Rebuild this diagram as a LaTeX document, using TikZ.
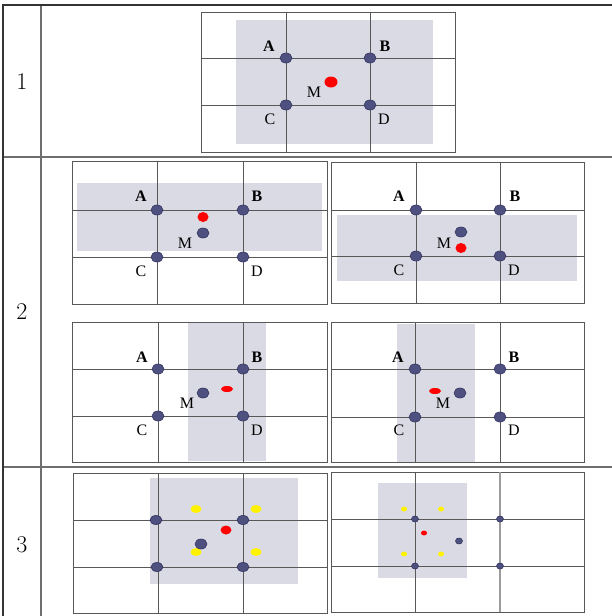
\documentclass[tikz,border=0pt]{standalone}
\usepackage{fontspec}
\newfontfamily\lblfont{Liberation Serif}
\usetikzlibrary{shapes.geometric, positioning}
\definecolor{dotblue}{RGB}{78,80,128}
\definecolor{dotedge}{RGB}{50,52,95}
\definecolor{shadegray}{RGB}{218,218,228}
\definecolor{gridgray}{RGB}{88,88,88}
\definecolor{tabgray}{RGB}{110,110,110}

\begin{document}
\begin{tikzpicture}[x=1pt,y=-1pt,
    gline/.style={gridgray,line width=1pt},
    shadebox/.style={fill=shadegray,draw=none},
    bdot/.style={ellipse,draw=dotedge,fill=dotblue,line width=0.6pt,
                 inner sep=0pt,minimum width=12pt,minimum height=10pt},
    rdot/.style={ellipse,fill=red,inner sep=0pt,
                 minimum width=12pt,minimum height=10pt},
    ydot/.style={ellipse,fill=yellow,inner sep=0pt,
                 minimum width=11pt,minimum height=8pt},
    tiny/.style={minimum width=7pt,minimum height=6pt},
    lbl/.style={inner sep=0pt,font=\lblfont\fontsize{16}{16}\selectfont},
    blbl/.style={lbl,font=\lblfont\bfseries\fontsize{16}{16}\selectfont},
    rownum/.style={inner sep=0pt,font=\fontsize{24}{24}\selectfont}]
  \useasboundingbox (0,0) rectangle (612,616);

  % table
  \draw[tabgray,line width=1.2pt] (41,5) -- (41,616);
  \draw[tabgray,line width=1.5pt] (3,157) -- (612,157);
  \draw[tabgray,line width=1.5pt] (3,467) -- (612,467);
  \draw[black!80,line width=2pt] (3,5) -- (612,5);
  \draw[black!80,line width=2pt] (3,4) -- (3,616);
  \node[rownum] (n1) at (22,82) {1};
  \node[rownum] (n2) at (22,312) {2};
  \node[rownum] (n3) at (22,545) {3};

  % row 1
  \fill[shadebox] (236,20) rectangle (433,144);
  \draw[gline] (201,12) rectangle (455,152);
  \draw[gline] (286,12) -- (286,152) (370,12) -- (370,152);
  \draw[gline] (201,58) -- (455,58) (201,105) -- (455,105);
  \node[bdot] (A1) at (286,58) {};
  \node[bdot] (B1) at (370,58) {};
  \node[bdot] (C1) at (286,105) {};
  \node[bdot] (D1) at (370,105) {};
  \node[rdot,minimum width=13pt,minimum height=11pt] (X1) at (331,82) {};
  \node[blbl] (lA1) at (269,46) {A};
  \node[blbl] (lB1) at (385,46) {B};
  \node[lbl] (lM1) at (314,92) {M};
  \node[lbl] (lC1) at (270,119) {C};
  \node[lbl] (lD1) at (384,119) {D};

  % row 2, top left
  \fill[shadebox] (77,183) rectangle (322,251);
  \draw[gline] (72,161) rectangle (327,304);
  \draw[gline] (157,161) -- (157,304) (243,161) -- (243,304);
  \draw[gline] (72,210) -- (327,210) (72,257) -- (327,257);
  \node[bdot] (A2) at (157,210) {};
  \node[bdot] (B2) at (243,210) {};
  \node[bdot] (C2) at (157,257) {};
  \node[bdot] (D2) at (243,257) {};
  \node[rdot,minimum width=11pt] (X2) at (203,217) {};
  \node[bdot] (M2) at (203,233) {};
  \node[blbl] (lA2) at (141,196) {A};
  \node[blbl] (lB2) at (257,196) {B};
  \node[lbl] (lM2) at (185,243) {M};
  \node[lbl] (lC2) at (141,271) {C};
  \node[lbl] (lD2) at (257,271) {D};

  % row 2, top right
  \fill[shadebox] (337,215) rectangle (577,281);
  \draw[gline] (331,162) rectangle (584,303);
  \draw[gline] (416,162) -- (416,303) (500,162) -- (500,303);
  \draw[gline] (331,210) -- (584,210) (331,256) -- (584,256);
  \node[bdot] (A3) at (416,210) {};
  \node[bdot] (B3) at (500,210) {};
  \node[bdot] (C3) at (416,256) {};
  \node[bdot] (D3) at (500,256) {};
  \node[bdot] (M3) at (461,232) {};
  \node[rdot,minimum width=11pt] (X3) at (461,248) {};
  \node[blbl] (lA3) at (399,196) {A};
  \node[blbl] (lB3) at (515,196) {B};
  \node[lbl] (lM3) at (444,243) {M};
  \node[lbl] (lC3) at (399,270) {C};
  \node[lbl] (lD3) at (514,270) {D};

  % row 2, bottom left
  \fill[shadebox] (188,322) rectangle (266,461);
  \draw[gline] (72,322) rectangle (327,462);
  \draw[gline] (158,322) -- (158,462) (243,322) -- (243,462);
  \draw[gline] (72,369) -- (327,369) (72,416) -- (327,416);
  \node[bdot] (A4) at (158,369) {};
  \node[bdot] (B4) at (243,369) {};
  \node[bdot] (C4) at (158,416) {};
  \node[bdot] (D4) at (243,416) {};
  \node[bdot] (M4) at (203,393) {};
  \node[rdot,minimum height=6pt] (X4) at (227,389) {};
  \node[blbl] (lA4) at (142,357) {A};
  \node[blbl] (lB4) at (257,357) {B};
  \node[lbl] (lM4) at (187,403) {M};
  \node[lbl] (lC4) at (142,430) {C};
  \node[lbl] (lD4) at (257,430) {D};

  % row 2, bottom right
  \fill[shadebox] (397,324) rectangle (475,462);
  \draw[gline] (331,322) rectangle (584,462);
  \draw[gline] (415,322) -- (415,462) (500,322) -- (500,462);
  \draw[gline] (331,369) -- (584,369) (331,417) -- (584,417);
  \node[bdot] (A5) at (415,369) {};
  \node[bdot] (B5) at (500,369) {};
  \node[bdot] (C5) at (415,417) {};
  \node[bdot] (D5) at (500,417) {};
  \node[rdot,minimum height=6pt] (X5) at (435,391) {};
  \node[bdot] (M5) at (460,393) {};
  \node[blbl] (lA5) at (398,357) {A};
  \node[blbl] (lB5) at (514,357) {B};
  \node[lbl] (lM5) at (443,403) {M};
  \node[lbl] (lC5) at (399,430) {C};
  \node[lbl] (lD5) at (514,430) {D};

  % row 3, left
  \fill[shadebox] (150,478) rectangle (298,584);
  \draw[gline] (73,473) rectangle (327,613);
  \draw[gline] (158,473) -- (158,613) (243,473) -- (243,613);
  \draw[gline] (73,520) -- (327,520) (73,567) -- (327,567);
  \node[bdot,minimum height=9pt] (A6) at (156,520) {};
  \node[bdot,minimum height=9pt] (B6) at (243,520) {};
  \node[bdot,minimum height=9pt] (C6) at (157,567) {};
  \node[bdot,minimum height=9pt] (D6) at (243,567) {};
  \node[ydot] (Y6a) at (196,509) {};
  \node[ydot] (Y6b) at (256,509) {};
  \node[ydot] (Y6c) at (196,552) {};
  \node[ydot] (Y6d) at (256,552) {};
  \node[rdot,minimum width=11pt,minimum height=9pt] (X6) at (226,530) {};
  \node[bdot] (M6) at (201,544) {};

  % row 3, right
  \fill[shadebox] (378,483) rectangle (467,578);
  \draw[gline] (331,472) rectangle (584,612);
  \draw[gline] (415,472) -- (415,612);
  \draw[gridgray!60,line width=1.3pt] (500,472) -- (500,612);
  \draw[gline] (331,519) -- (584,519) (331,566) -- (584,566);
  \node[bdot,tiny] (A7) at (415,519) {};
  \node[bdot,tiny] (B7) at (500,519) {};
  \node[bdot,tiny] (C7) at (415,566) {};
  \node[bdot,tiny] (D7) at (500,566) {};
  \node[ydot,minimum width=6pt,minimum height=5pt] (Y7a) at (404,509) {};
  \node[ydot,minimum width=6pt,minimum height=5pt] (Y7b) at (441,509) {};
  \node[ydot,minimum width=6pt,minimum height=5pt] (Y7c) at (404,554) {};
  \node[ydot,minimum width=6pt,minimum height=5pt] (Y7d) at (441,554) {};
  \node[rdot,minimum width=6pt,minimum height=5pt] (X7) at (424,533) {};
  \node[bdot,tiny] (M7) at (459,541) {};
\end{tikzpicture}
\end{document}
